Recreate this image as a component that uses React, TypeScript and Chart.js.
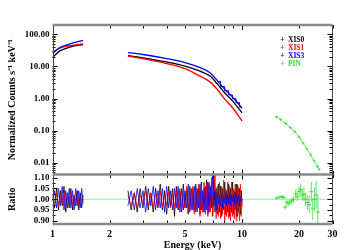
import React, { useEffect, useRef } from "react";
import { Chart, registerables } from "chart.js";
Chart.register(...registerables);

const FONT = "'Liberation Serif', 'Times New Roman', serif";

// ---------- upper panel: normalized counts ----------
const lowE = [1.0, 1.05, 1.1, 1.17, 1.26, 1.35, 1.45];
const xis0Low = [19, 25, 31, 36, 41, 45, 48];
const xis1Low = [27, 33, 38, 42, 45, 48, 50];
const xis3Low = [26, 32, 39, 45, 52, 58, 64];

const highE = [2.5, 3, 4, 5, 6, 6.77, 7.5, 8, 9, 10];
const xis0High = [21.5, 18.5, 13.8, 10.3, 7.1, 5.0, 2.6, 1.63, 0.79, 0.36];
const xis1High = [21, 17.5, 12.3, 8.5, 5.0, 3.3, 1.75, 1.05, 0.48, 0.2];
const xis3High = [27, 23.5, 17.6, 13.2, 9.2, 6.4, 3.3, 2.1, 1.04, 0.5];

const xis3StepE = [7.5, 7.9, 8.3, 8.7, 9.1, 9.5, 9.9];
const xis3StepV = [3.4, 2.35, 1.75, 1.3, 0.98, 0.74, 0.54];

const pinE = [15.2, 16, 17, 18, 19, 20, 21, 22, 23, 24, 25, 25.5];
const pinVal = [0.27, 0.22, 0.165, 0.125, 0.092, 0.063, 0.041, 0.027, 0.0175, 0.0114, 0.0076, 0.0062];

// ---------- lower panel: ratio ----------
const seg1E = [1.0, 1.025, 1.05, 1.075, 1.1, 1.125, 1.15, 1.175, 1.2, 1.225, 1.25, 1.275, 1.3, 1.325, 1.35, 1.375, 1.4, 1.425, 1.45];
const r0Seg1 = [1.02, 0.96, 1.05, 0.95, 1.04, 0.97, 1.06, 0.94, 1.03, 0.96, 1.05, 0.95, 1.02, 0.97, 1.04, 0.95, 1.03, 0.96, 1.02];
const r1Seg1 = [1.0, 0.98, 1.03, 0.97, 1.02, 0.98, 1.03, 0.97, 1.02, 0.99, 1.03, 0.97, 1.02, 0.98, 1.03, 0.98, 1.01, 0.99, 1.0];
const r3Seg1 = [0.99, 1.04, 0.96, 1.05, 0.97, 1.06, 0.95, 1.04, 0.96, 1.05, 0.96, 1.04, 0.95, 1.05, 0.97, 1.04, 0.96, 1.05, 0.98];

const seg2E = [
  2.5, 2.6, 2.7, 2.8, 2.9, 3.0, 3.1, 3.2, 3.3, 3.4,
  3.5, 3.6, 3.7, 3.8, 3.9, 4.0, 4.1, 4.2, 4.3, 4.4,
  4.5, 4.6, 4.7, 4.8, 4.9, 5.0, 5.1, 5.2, 5.3, 5.4,
  5.5, 5.6, 5.7, 5.8, 5.9, 6.0, 6.1, 6.2, 6.3, 6.4,
  6.5, 6.6, 6.7, 6.8, 6.9, 7.0, 7.1, 7.2, 7.3, 7.4,
  7.5, 7.6, 7.7, 7.8, 7.9, 8.0, 8.1, 8.2, 8.3, 8.4,
  8.5, 8.6, 8.7, 8.8, 8.9, 9.0, 9.1, 9.2, 9.3, 9.4,
  9.5, 9.6, 9.7, 9.8, 9.9, 10.0,
];
const r0Seg2 = [
  1.04, 0.95, 1.03, 0.94, 1.05, 0.96, 1.06, 0.95, 1.03, 0.94,
  1.05, 0.96, 1.07, 0.95, 1.04, 0.93, 1.06, 0.97, 1.05, 0.92,
  1.06, 0.95, 1.04, 0.94, 1.07, 0.96, 1.05, 0.93, 1.06, 0.95,
  1.05, 0.94, 1.07, 0.95, 1.06, 0.93, 1.08, 0.94, 1.05, 0.95,
  1.09, 0.93, 1.07, 0.95, 1.08, 0.92, 1.12, 0.94, 1.05, 0.93,
  1.07, 0.94, 1.06, 0.92, 1.05, 0.95, 1.08, 0.93, 1.04, 0.94,
  1.07, 0.92, 1.05, 0.94, 1.08, 0.93, 1.04, 0.95, 1.07, 0.92,
  1.06, 0.94, 1.05, 0.93, 1.04, 0.97,
];
const r1Seg2 = [
  1.02, 0.97, 1.03, 0.96, 1.02, 0.98, 1.04, 0.97, 1.03, 0.96,
  1.03, 0.97, 1.04, 0.96, 1.02, 0.97, 1.04, 0.96, 1.03, 0.95,
  1.04, 0.96, 1.05, 0.95, 1.03, 0.96, 1.06, 0.94, 1.05, 0.95,
  1.06, 0.93, 1.05, 0.94, 1.07, 0.92, 1.06, 0.94, 1.08, 0.93,
  1.07, 0.92, 1.08, 0.94, 1.1, 0.93, 0.99, 1.13, 0.91, 1.06,
  0.92, 1.08, 0.91, 1.06, 0.93, 1.09, 0.9, 1.05, 0.92, 1.08,
  0.91, 1.06, 0.9, 1.08, 0.92, 1.05, 0.91, 1.07, 0.9, 1.06,
  0.93, 1.05, 0.9, 1.07, 0.92, 1.0,
];
const r3Seg2 = [
  0.97, 1.04, 0.95, 1.05, 0.96, 1.04, 0.94, 1.05, 0.97, 1.06,
  0.95, 1.04, 0.96, 1.05, 0.94, 1.06, 0.96, 1.04, 0.95, 1.05,
  0.96, 1.06, 0.94, 1.05, 0.95, 1.04, 0.96, 1.07, 0.94, 1.05,
  0.95, 1.06, 0.94, 1.05, 0.96, 1.07, 0.95, 1.04, 0.94, 1.06,
  0.95, 1.08, 0.94, 1.06, 0.96, 1.12, 0.97, 1.04, 0.95, 1.03,
  0.98, 1.02, 0.97, 1.03, 0.96, 1.02, 0.98, 1.03, 0.97, 1.02,
  0.98, 1.03, 0.97, 1.02, 0.99, 1.02, 0.97, 1.03, 0.98, 1.01,
  0.99, 1.02, 0.97, 1.01, 0.99, 1.0,
];

const pinRE = [15.2, 15.7, 16.2, 16.6, 16.9, 17.2, 17.5, 17.9, 18.3, 18.7, 19.2, 19.6, 20.0, 20.4, 20.8, 21.2, 21.6, 22.1, 22.6, 23.2, 23.6, 24.1, 24.6, 25.1];
const pinR = [1.005, 1.01, 1.012, 1.008, 0.964, 0.988, 0.979, 0.988, 0.993, 1.0, 1.025, 1.012, 1.037, 1.045, 1.017, 1.024, 1.0, 0.985, 0.975, 1.035, 0.955, 1.0, 1.02, 0.94];
const pinErr = [0.008, 0.008, 0.01, 0.01, 0.01, 0.012, 0.012, 0.014, 0.015, 0.015, 0.02, 0.02, 0.022, 0.025, 0.025, 0.03, 0.03, 0.035, 0.04, 0.045, 0.05, 0.055, 0.065, 0.08];

const unityLine = [1, 30];

// ---------- axes ----------
const xLabelTicks = [1, 2, 5, 10, 20, 30];
const xTickMarks = [2, 3, 4, 5, 6, 7, 8, 9, 10, 20, 30];
const yMajor = [0.01, 0.1, 1, 10, 100];
const rMajor = [0.9, 0.95, 1.0, 1.05, 1.1];
const rMinor = [0.925, 0.975, 1.025, 1.075];

const legendItems = ["XIS0", "XIS1", "XIS3", "PIN"];
const BLACK = "#000000";
const RED = "#ff0000";
const BLUE = "#0000ff";
const GREEN = "#33dd33";
const legendColors = [BLACK, RED, BLUE, GREEN];

const pts = (xs: number[], ys: number[]) => xs.map((x, i) => ({ x, y: ys[i] }));

const framePlugin = {
  id: "frame",
  afterDraw(chart: any) {
    const { ctx, chartArea } = chart;
    const xs = chart.scales.x;
    const ys = chart.scales.y;
    const yr = chart.scales.yr;
    const L = chartArea.left;
    const R = chartArea.right;
    const T = ys.top;
    const M = ys.bottom;
    const B = yr.bottom;
    ctx.save();
    ctx.strokeStyle = "#000";
    ctx.lineWidth = 1;
    const seg = (x1: number, y1: number, x2: number, y2: number) => {
      ctx.beginPath();
      ctx.moveTo(x1, y1);
      ctx.lineTo(x2, y2);
      ctx.stroke();
    };
    const decades = [0.001, 0.01, 0.1, 1, 10, 100];
    for (const d of decades) {
      for (let k = 1; k <= 9; k++) {
        const v = k * d;
        if (v < ys.min || v > ys.max) continue;
        const p = Math.round(ys.getPixelForValue(v)) + 0.5;
        const len = k === 1 ? 5 : 3;
        seg(L, p, L + len, p);
        seg(R, p, R - len, p);
      }
    }
    for (const v of rMajor) {
      const p = Math.round(yr.getPixelForValue(v)) + 0.5;
      seg(L, p, L + 5, p);
      seg(R, p, R - 5, p);
    }
    for (const v of rMinor) {
      const p = Math.round(yr.getPixelForValue(v)) + 0.5;
      seg(L, p, L + 3, p);
      seg(R, p, R - 3, p);
    }
    for (const v of xTickMarks) {
      const p = Math.round(xs.getPixelForValue(v)) + 0.5;
      const len = v === 10 ? 5 : 3.5;
      seg(p, T, p, T + len);
      seg(p, M, p, M - len);
      seg(p, M, p, M + len);
      seg(p, B, p, B - len);
    }
    ctx.strokeStyle = "#444";
    ctx.lineWidth = 1;
    seg(Math.round(L) + 0.5, T, Math.round(L) + 0.5, B);
    seg(Math.round(R) - 0.5, T, Math.round(R) - 0.5, B);
    ctx.strokeStyle = "#8a8a8a";
    ctx.lineWidth = 2.5;
    seg(L, T, R, T);
    seg(L, M, R, M);
    seg(L, B, R, B);
    ctx.font = `bold 7.5px ${FONT}`;
    ctx.textBaseline = "middle";
    legendItems.forEach((t, i) => {
      const y = T + 15 + i * 8;
      ctx.fillStyle = legendColors[i];
      ctx.textAlign = "center";
      ctx.fillText("+", R - 50, y);
      ctx.textAlign = "left";
      ctx.fillText(t, R - 44.5, y);
    });
    ctx.restore();
  },
};

export default function App() {
  const ref = useRef<HTMLCanvasElement>(null);
  useEffect(() => {
    const canvas = ref.current!;
    const upperLine = (data: any[], color: string, order: number, extra: any = {}) => ({
      data,
      yAxisID: "y",
      borderColor: color,
      backgroundColor: color,
      borderWidth: 1.3,
      pointRadius: 0,
      cubicInterpolationMode: "monotone",
      order,
      ...extra,
    });
    const ratioLine = (data: any[], color: string, order: number) => ({
      data,
      yAxisID: "yr",
      borderColor: color,
      backgroundColor: color,
      borderWidth: 0.8,
      pointRadius: 0,
      order,
    });
    const pinBars: any[] = [];
    pinRE.forEach((e, i) => {
      pinBars.push({ x: e, y: pinR[i] - pinErr[i] });
      pinBars.push({ x: e, y: pinR[i] + pinErr[i] });
      pinBars.push({ x: e, y: null });
    });
    const tickFont = { family: FONT, size: 9, weight: "bold" as const };
    const titleFont = { family: FONT, size: 10, weight: "bold" as const };
    const chart = new Chart(canvas, {
      type: "line",
      data: {
        datasets: [
          upperLine(pts(lowE, xis0Low), BLACK, 13),
          upperLine(pts(highE, xis0High), BLACK, 13),
          upperLine(pts(lowE, xis1Low), RED, 12),
          upperLine(pts(highE, xis1High), RED, 12),
          upperLine(pts(lowE, xis3Low), BLUE, 11),
          upperLine(pts(highE, xis3High), BLUE, 11),
          upperLine(pts(xis3StepE, xis3StepV), BLUE, 11, { stepped: "middle", cubicInterpolationMode: "default", borderWidth: 1 }),
          upperLine(pts(pinE, pinVal), GREEN, 10, { borderWidth: 0.8, pointRadius: 1.5, pointStyle: "cross", pointBorderWidth: 0.8 }),
          ratioLine(unityLine.map((x) => ({ x, y: 1 })), "rgb(130,240,130)", 9),
          ratioLine(pts(seg1E, r0Seg1), BLACK, 8),
          ratioLine(pts(seg2E, r0Seg2), BLACK, 8),
          ratioLine(pts(seg1E, r1Seg1), RED, 7),
          ratioLine(pts(seg2E, r1Seg2), RED, 7),
          ratioLine(pts(seg1E, r3Seg1), BLUE, 6),
          ratioLine(pts(seg2E, r3Seg2), BLUE, 6),
          ratioLine(pinBars, GREEN, 5),
          {
            data: pts(pinRE, pinR),
            yAxisID: "yr",
            showLine: false,
            borderColor: GREEN,
            pointStyle: "line",
            pointRadius: 2,
            pointBorderWidth: 1,
            order: 5,
          },
        ] as any,
      },
      options: {
        animation: false,
        responsive: false,
        maintainAspectRatio: false,
        events: [],
        layout: { padding: { top: 25, right: 17.5, left: 0, bottom: 0 } },
        plugins: { legend: { display: false }, tooltip: { enabled: false } },
        scales: {
          x: {
            type: "logarithmic",
            position: "bottom",
            min: 1,
            max: 30,
            afterBuildTicks: (s: any) => {
              s.ticks = xLabelTicks.map((v) => ({ value: v }));
            },
            afterFit: (s: any) => {
              s.height = 26;
            },
            grid: { display: false, drawTicks: false },
            border: { display: false },
            ticks: {
              autoSkip: false,
              maxRotation: 0,
              padding: 4,
              color: "#000",
              font: { family: FONT, size: 10, weight: "bold" },
              callback: (v: any) => String(v),
            },
            title: { display: true, text: "Energy (keV)", color: "#000", font: titleFont, padding: { top: 0, bottom: -1 } },
          },
          yr: {
            type: "linear",
            position: "left",
            stack: "panels",
            stackWeight: 49.5,
            min: 0.885,
            max: 1.115,
            afterBuildTicks: (s: any) => {
              s.ticks = rMajor.map((v) => ({ value: v }));
            },
            afterFit: (s: any) => {
              s.width = 52.5;
            },
            grid: { display: false, drawTicks: false },
            border: { display: false },
            ticks: { padding: 3, color: "#000", font: tickFont, autoSkip: false, callback: (v: any) => Number(v).toFixed(2) },
            title: { display: true, text: "Ratio", color: "#000", font: titleFont, padding: { top: 6.5, bottom: 0 } },
          },
          y: {
            type: "logarithmic",
            position: "left",
            stack: "panels",
            stackWeight: 149.5,
            min: 0.0043,
            max: 195,
            afterBuildTicks: (s: any) => {
              s.ticks = yMajor.map((v) => ({ value: v }));
            },
            afterFit: (s: any) => {
              s.width = 52.5;
            },
            grid: { display: false, drawTicks: false },
            border: { display: false },
            ticks: { padding: 3, color: "#000", font: tickFont, autoSkip: false, callback: (v: any) => Number(v).toFixed(2) },
            title: {
              display: true,
              text: "Normalized Counts s\u207B\u00B9 keV\u207B\u00B9",
              color: "#000",
              font: titleFont,
              padding: { top: 6.5, bottom: 0 },
            },
          },
        } as any,
      },
      plugins: [framePlugin],
    });
    return () => chart.destroy();
  }, []);
  return (
    <div style={{ position: "fixed", left: 0, top: 0, width: 350, height: 250, background: "#fff" }}>
      <canvas ref={ref} width={350} height={250} style={{ display: "block", width: 350, height: 250 }} />
    </div>
  );
}
